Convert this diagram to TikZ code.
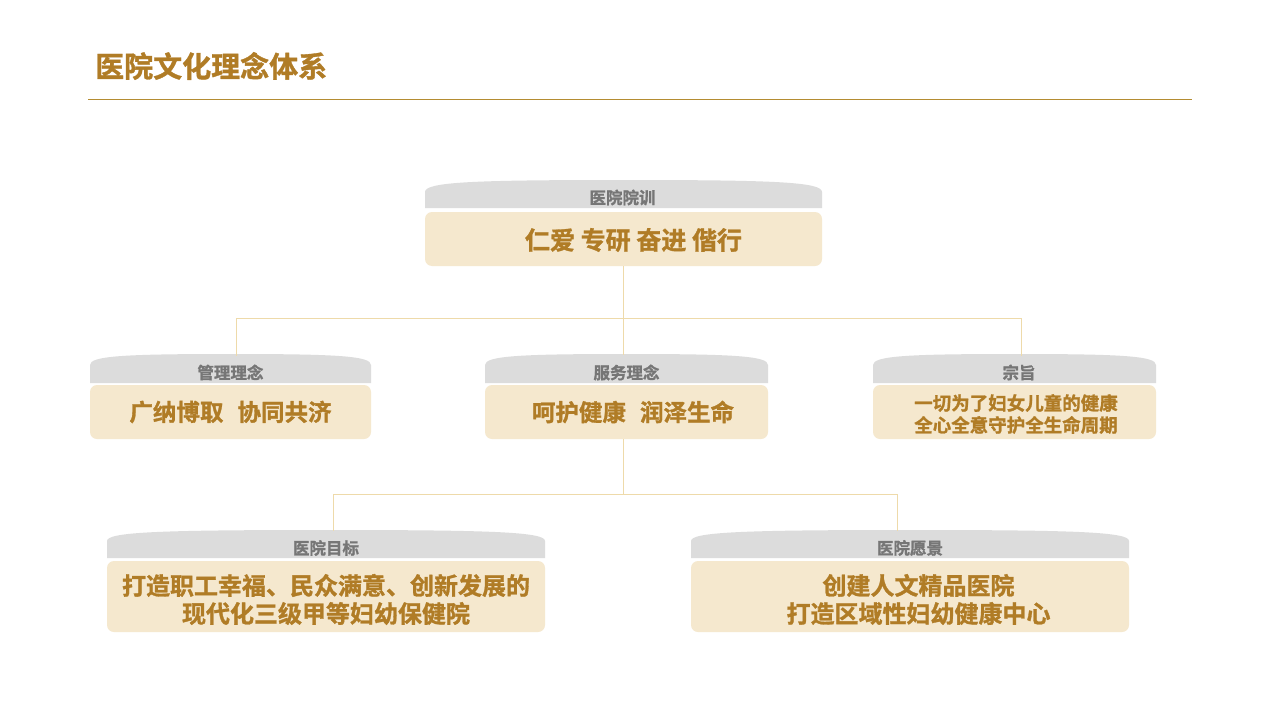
\documentclass[tikz,border=0pt]{standalone}
\usepackage{fontspec}
\newfontfamily\cjk{Noto Sans CJK SC Bold}[FakeBold=1.2]
\definecolor{gold}{RGB}{176,124,38}
\definecolor{rulegold}{RGB}{180,140,50}
\definecolor{linegold}{RGB}{238,218,170}
\definecolor{hdrgrey}{RGB}{220,220,220}
\definecolor{hdrtext}{RGB}{118,118,118}
\definecolor{beige}{RGB}{245,232,206}
\newcommand{\hdrshape}[5]{%
  % #1 x1, #2 x2, #3 ytop, #4 yedge, #5 ybot
  \fill[hdrgrey] (#1,#5) -- (#1,#4)
    .. controls (#1,#3+2) and ({#1+0.12*(#2-#1)},#3) .. ({(#1+#2)/2},#3)
    .. controls ({#2-0.12*(#2-#1)},#3) and (#2,#3+2) .. (#2,#4) -- (#2,#5) -- cycle;}
\tikzset{
  hdrlabel/.style={font=\cjk\fontsize{16.5}{18}\selectfont, text=hdrtext, inner sep=0pt},
  mainbox/.style={fill=beige, rounded corners=7pt, inner sep=0pt},
  maintext/.style={inner sep=0pt, align=center, text=gold},
  conn/.style={draw=linegold, line width=1pt},
}
\begin{document}
\begin{tikzpicture}[x=1pt,y=-1pt]
\useasboundingbox (0,0) rectangle (1276,717);
\fill[white] (0,0) rectangle (1276,717);
% title
\node[anchor=west, text=gold, font=\cjk\fontsize{29}{32}\selectfont, inner sep=0pt] (title) at (95,66) {医院文化理念体系};
\draw[rulegold, line width=1.5pt] (88,99.5) -- (1192,99.5);

% top box
\hdrshape{425}{822}{180}{192}{208}
\node[hdrlabel] (h0) at (622.5,197.5) {医院院训};
\node[mainbox, minimum width=397pt, minimum height=54pt] (b0) at (623.5,239) {};
\node[maintext, font=\cjk\fontsize{25}{28}\selectfont] (t0) at (633.5,240) {仁爱 专研 奋进 偕行};

% level 2
\hdrshape{90}{371}{354}{365}{383}
\node[hdrlabel] (h1) at (230.5,372.5) {管理理念};
\node[mainbox, minimum width=281pt, minimum height=54pt] (b1) at (230.5,412) {};
\node[maintext, font=\cjk\fontsize{23.5}{26}\selectfont] (t1) at (230.5,412) {广纳博取\hspace{0.6em}协同共济};

\hdrshape{485}{768}{354}{365}{383}
\node[hdrlabel] (h2) at (626.5,372.5) {服务理念};
\node[mainbox, minimum width=283pt, minimum height=54pt] (b2) at (626.5,412) {};
\node[maintext, font=\cjk\fontsize{23.5}{26}\selectfont] (t2) at (633,412) {呵护健康\hspace{0.6em}润泽生命};

\hdrshape{873}{1156}{354}{365}{383}
\node[hdrlabel] (h3) at (1019,372.5) {宗旨};
\node[mainbox, minimum width=283pt, minimum height=54pt] (b3) at (1014.5,412) {};
\node[maintext, font=\cjk\fontsize{18.5}{22}\selectfont] (t3) at (1016,414) {一切为了妇女儿童的健康\\全心全意守护全生命周期};

% level 3
\hdrshape{107}{545}{530}{541}{558}
\node[hdrlabel] (h4) at (326,548) {医院目标};
\node[mainbox, minimum width=438pt, minimum height=71pt] (b4) at (326,596.5) {};
\node[maintext, font=\cjk\fontsize{24}{28}\selectfont] (t4) at (326,599.5) {打造职工幸福、民众满意、创新发展的\\现代化三级甲等妇幼保健院};

\hdrshape{691}{1129}{530}{541}{558}
\node[hdrlabel] (h5) at (910,548) {医院愿景};
\node[mainbox, minimum width=438pt, minimum height=71pt] (b5) at (910,596.5) {};
\node[maintext, font=\cjk\fontsize{24}{28}\selectfont] (t5) at (918.5,599.5) {创建人文精品医院\\打造区域性妇幼健康中心};

% connectors
\coordinate (j1) at (623.5,318);
\coordinate (l1) at (236,318);
\coordinate (r1) at (1021,318);
\coordinate (j2) at (623.5,494);
\coordinate (l2) at (333,494);
\coordinate (r2) at (897,494);
\draw[conn] (b0.south -| j1) -- (j1);
\draw[conn] (l1) -- (r1);
\draw[conn] (l1) -- (l1 |- 0,356);
\draw[conn] (r1) -- (r1 |- 0,356);
\draw[conn] (j1) -- (j1 |- 0,355);
\draw[conn] (b2.south -| j2) -- (j2);
\draw[conn] (l2) -- (r2);
\draw[conn] (l2) -- (l2 |- 0,531);
\draw[conn] (r2) -- (r2 |- 0,531);
\end{tikzpicture}
\end{document}
